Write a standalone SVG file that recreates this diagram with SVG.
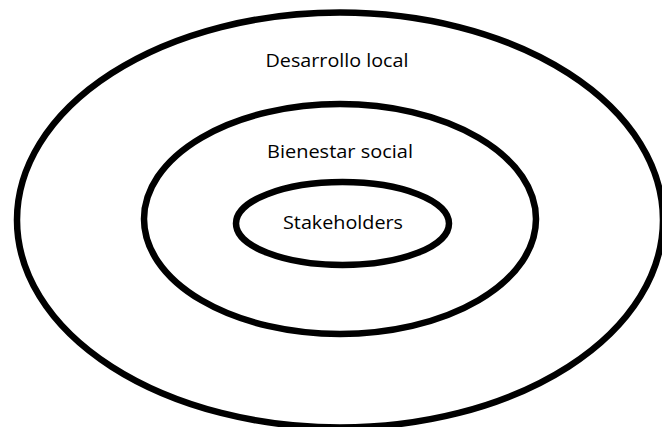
<svg xmlns="http://www.w3.org/2000/svg" width="662" height="427" viewBox="0 0 662 427">
<style>
.ring{fill:none;stroke:#000;stroke-width:6.5}
.lbl{font-family:"Open Sans","Liberation Sans",sans-serif;font-size:18px;fill:#000;text-anchor:middle}
</style>
<rect width="662" height="427" fill="#fff"/>
<g id="desarrollo-local">
<ellipse class="ring" cx="340" cy="220" rx="323" ry="207.5"/>
<text class="lbl" x="337" y="67" textLength="143" lengthAdjust="spacingAndGlyphs">Desarrollo local</text>
</g>
<g id="bienestar-social">
<ellipse class="ring" cx="340" cy="219" rx="196" ry="115"/>
<text class="lbl" x="340" y="158" textLength="146" lengthAdjust="spacingAndGlyphs">Bienestar social</text>
</g>
<g id="stakeholders">
<ellipse class="ring" cx="342.5" cy="223.5" rx="106.5" ry="41.5"/>
<text class="lbl" x="343" y="229" textLength="120" lengthAdjust="spacingAndGlyphs">Stakeholders</text>
</g>
<g id="connectors"/>
</svg>
